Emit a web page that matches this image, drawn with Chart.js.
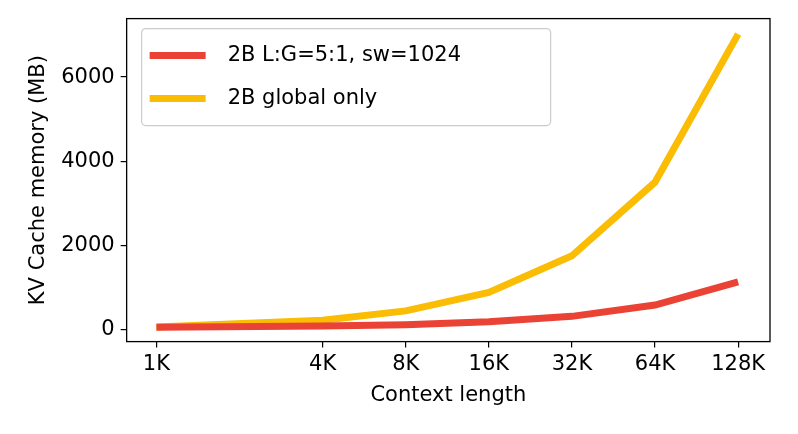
<!DOCTYPE html>
<html><head><meta charset="utf-8">
<script src="https://cdn.jsdelivr.net/npm/chart.js@4"></script>
<style>body{margin:0;background:#fff}#w{width:798px;height:434px}</style>
</head><body><div id="w"><canvas id="c"></canvas></div>
<script>
const contextK = [1, 4, 8, 16, 32, 64, 128];
const tickLabels = ['1K','4K','8K','16K','32K','64K','128K'];
const localGlobal = [50, 80, 110, 180, 310, 580, 1130];
const globalOnly = [55, 220, 440, 880, 1750, 3500, 7020];
const seriesNames = ['2B L:G=5:1, sw=1024', '2B global only'];
const colors = ['#ea4335', '#fbbc04'];
const F = "'DejaVu Sans', sans-serif";
const frame = {id:'frame', afterDraw(ch){const a=ch.chartArea,c=ch.ctx;c.save();c.strokeStyle='#000';c.lineWidth=1.3;c.strokeRect(a.left,a.top,a.right-a.left,a.bottom-a.top);
 const x=a.left+15,y=a.top+10,w=409,h=97;c.fillStyle='rgba(255,255,255,0.8)';c.strokeStyle='#ccc';c.lineWidth=1.2;
 c.beginPath();c.roundRect(x,y,w,h,4);c.fill();c.stroke();
 c.font='21px '+F;c.textBaseline='middle';
 seriesNames.forEach((n,i)=>{const yy=y+27+i*43;c.strokeStyle=colors[i];c.lineWidth=7;c.beginPath();c.moveTo(x+8,yy);c.lineTo(x+64,yy);c.stroke();c.fillStyle='#000';c.fillText(n,x+86,yy);});
 c.restore();}};
const tickGrid = {display:true,drawOnChartArea:false,drawTicks:true,tickLength:6,color:'#000',lineWidth:1.2};
new Chart(document.getElementById('c'),{type:'line',
 data:{labels:contextK,datasets:[
  {label:seriesNames[0],data:contextK.map((k,i)=>({x:k,y:localGlobal[i]})),borderColor:colors[0],borderWidth:7,pointRadius:0,tension:0},
  {label:seriesNames[1],data:contextK.map((k,i)=>({x:k,y:globalOnly[i]})),borderColor:colors[1],borderWidth:7,pointRadius:0,tension:0}]},
 options:{animation:false,responsive:true,maintainAspectRatio:false,
  layout:{padding:{left:22,right:28,top:15,bottom:22}},
  plugins:{legend:{display:false},tooltip:{enabled:false}},
  scales:{
   x:{type:'logarithmic',min:0.78,max:167,grid:tickGrid,border:{display:false},
    afterBuildTicks(s){s.ticks=contextK.map(v=>({value:v}));},
    ticks:{autoSkip:false,maxRotation:0,color:'#000',padding:4,font:{family:F,size:21},callback:(v)=>tickLabels[contextK.indexOf(v)]??''},
    title:{display:true,text:'Context length',color:'#000',padding:{top:2},font:{family:F,size:21}}},
   y:{min:-290,max:7390,grid:tickGrid,border:{display:false},
    afterBuildTicks(s){s.ticks=[0,2000,4000,6000].map(v=>({value:v}));},
    ticks:{color:'#000',padding:6,font:{family:F,size:21},callback:v=>String(v)},
    title:{display:true,text:'KV Cache memory (MB)',color:'#000',font:{family:F,size:21}}}}},
 plugins:[frame]});
</script></body></html>
